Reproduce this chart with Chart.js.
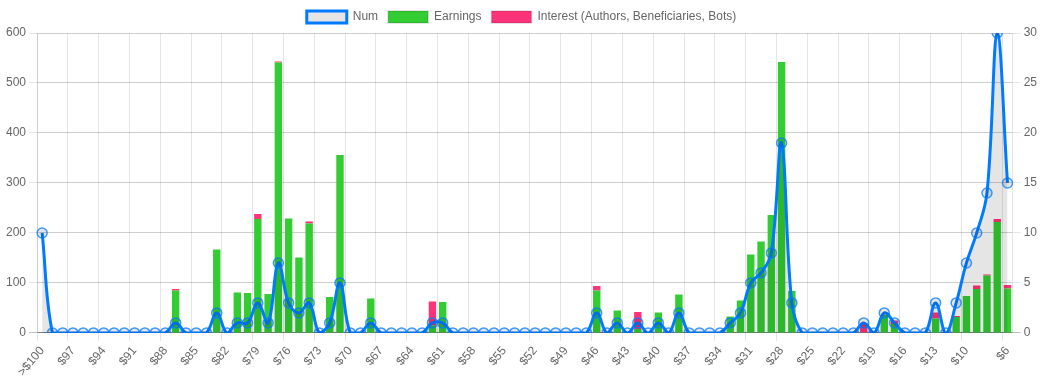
<!DOCTYPE html>
<html>
<head>
<meta charset="utf-8">
<script src="https://cdn.jsdelivr.net/npm/chart.js@4/dist/chart.umd.min.js"></script>
<style>
    html, body { margin: 0; padding: 0; background: #fff; }
    #wrap { width: 1047px; height: 387px; position: relative; }
</style>
</head>
<body>
<div id="wrap"><canvas id="priceChart"></canvas></div>
<script>
// price buckets, most expensive first
var labels = [
    '>$100', '$99', '$98', '$97', '$96', '$95', '$94', '$93', '$92', '$91',
    '$90', '$89', '$88', '$87', '$86', '$85', '$84', '$83', '$82', '$81',
    '$80', '$79', '$78', '$77', '$76', '$75', '$74', '$73', '$72', '$71',
    '$70', '$69', '$68', '$67', '$66', '$65', '$64', '$63', '$62', '$61',
    '$60', '$59', '$58', '$57', '$56', '$55', '$54', '$53', '$52', '$51',
    '$50', '$49', '$48', '$47', '$46', '$45', '$44', '$43', '$42', '$41',
    '$40', '$39', '$38', '$37', '$36', '$35', '$34', '$33', '$32', '$31',
    '$30', '$29', '$28', '$27', '$26', '$25', '$24', '$23', '$22', '$21',
    '$20', '$19', '$18', '$17', '$16', '$15', '$14', '$13', '$12', '$11',
    '$10', '$9', '$8', '$7', '$6'
];

// count per bucket (right axis)
var num = [
    10, 0, 0, 0, 0, 0, 0, 0, 0, 0,
    0, 0, 0, 1, 0, 0, 0, 2, 0, 1,
    1, 3, 1, 7, 3, 2, 3, 0, 1, 5,
    0, 0, 1, 0, 0, 0, 0, 0, 1, 1,
    0, 0, 0, 0, 0, 0, 0, 0, 0, 0,
    0, 0, 0, 0, 2, 0, 1, 0, 1, 0,
    1, 0, 2, 0, 0, 0, 0, 1, 2, 5,
    6, 8, 19, 3, 0, 0, 0, 0, 0, 0,
    1, 0, 2, 1, 0, 0, 0, 3, 0, 3,
    7, 10, 14, 30, 15
];

// stacked bars (left axis)
var earnings = [
    0, 0, 0, 0, 0, 0, 0, 0, 0, 0,
    0, 0, 0, 85, 0, 0, 0, 167, 0, 81,
    80, 228, 78, 541, 229, 151, 219, 0, 72, 356,
    0, 0, 69, 0, 0, 0, 0, 0, 15, 62,
    0, 0, 0, 0, 0, 0, 0, 0, 0, 0,
    0, 0, 0, 0, 85, 0, 45, 0, 8, 0,
    41, 0, 77, 0, 0, 0, 0, 33, 65, 157,
    183, 236, 542, 84, 0, 0, 0, 0, 0, 0,
    0, 0, 36, 18, 0, 0, 0, 29, 0, 32,
    74, 88, 115, 222, 89
];

var interest = [
    0, 0, 0, 0, 0, 0, 0, 0, 0, 0,
    0, 0, 0, 3, 0, 0, 0, 0, 0, 0,
    0, 10, 0, 2, 0, 0, 4, 0, 0, 0,
    0, 0, 0, 0, 0, 0, 0, 0, 48, 0,
    0, 0, 0, 0, 0, 0, 0, 0, 0, 0,
    0, 0, 0, 0, 9, 0, 0, 0, 34, 0,
    0, 0, 0, 0, 0, 0, 0, 0, 0, 0,
    0, 0, 0, 0, 0, 0, 0, 0, 0, 0,
    20, 0, 0, 7, 0, 0, 0, 12, 0, 2,
    0, 7, 2, 6, 7
];

var LINE_BLUE = 'rgb(0, 123, 255)';
var GRID = 'rgba(0, 0, 0, 0.1)';
var ZERO_LINE = 'rgba(0, 0, 0, 0.25)';

// every 3rd label, last one always shown (old autoskip look)
function labelShown(i) {
    var n = labels.length;
    if (i === n - 1) return true;
    return i % 3 === 0 && i + 3 < n;
}

Chart.defaults.font.family = "'Liberation Sans', Arial, Helvetica, sans-serif";
Chart.defaults.font.size = 12;
Chart.defaults.color = '#666';

var ctx = document.getElementById('priceChart').getContext('2d');

new Chart(ctx, {
    type: 'bar',
    data: {
        labels: labels,
        datasets: [
            {
                label: 'Num',
                type: 'line',
                data: num,
                yAxisID: 'y1',
                borderColor: LINE_BLUE,
                borderWidth: 3,
                backgroundColor: 'rgba(0, 0, 0, 0.1)',
                fill: 'origin',
                tension: 0.4,
                pointRadius: 5,
                pointBorderWidth: 1.5,
                pointBorderColor: 'rgba(0, 123, 255, 0.75)',
                pointBackgroundColor: 'rgba(0, 0, 0, 0.1)'
            },
            {
                label: 'Earnings',
                data: earnings,
                yAxisID: 'y',
                backgroundColor: 'rgb(51, 204, 51)',
                borderWidth: 0
            },
            {
                label: 'Interest (Authors, Beneficiaries, Bots)',
                data: interest,
                yAxisID: 'y',
                backgroundColor: 'rgb(255, 51, 119)',
                borderWidth: 0
            }
        ]
    },
    options: {
        responsive: true,
        maintainAspectRatio: false,
        animation: false,
        layout: {
            padding: { left: 3, right: 7, top: 1, bottom: 5 }
        },
        plugins: {
            legend: {
                labels: {
                    boxWidth: 40,
                    boxHeight: 12,
                    padding: 10,
                    generateLabels: function(chart) {
                        var items = Chart.defaults.plugins.legend.labels.generateLabels(chart);
                        items.forEach(function(item, idx) {
                            if (idx > 0) {
                                item.lineWidth = 2;
                                item.strokeStyle = 'rgba(0, 0, 0, 0.1)';
                            }
                        });
                        return items;
                    }
                }
            },
            tooltip: { enabled: false }
        },
        scales: {
            x: {
                stacked: true,
                offset: true,
                grid: {
                    offset: true,
                    color: function(c) {
                        return (c.index !== undefined && labelShown(c.index)) ? GRID : 'transparent';
                    }
                },
                ticks: {
                    autoSkip: false,
                    maxRotation: 50,
                    minRotation: 50,
                    callback: function(value, index) {
                        return labelShown(index) ? this.getLabelForValue(value) : '';
                    }
                }
            },
            y: {
                stacked: true,
                position: 'left',
                min: 0,
                max: 600,
                ticks: { stepSize: 100 },
                grid: {
                    color: function(c) {
                        return (c.tick && c.tick.value === 0) ? ZERO_LINE : GRID;
                    }
                }
            },
            y1: {
                position: 'right',
                min: 0,
                max: 30,
                ticks: { stepSize: 5 },
                grid: {
                    color: function(c) {
                        return (c.tick && c.tick.value === 0) ? ZERO_LINE : GRID;
                    }
                }
            }
        }
    }
});
</script>
</body>
</html>
